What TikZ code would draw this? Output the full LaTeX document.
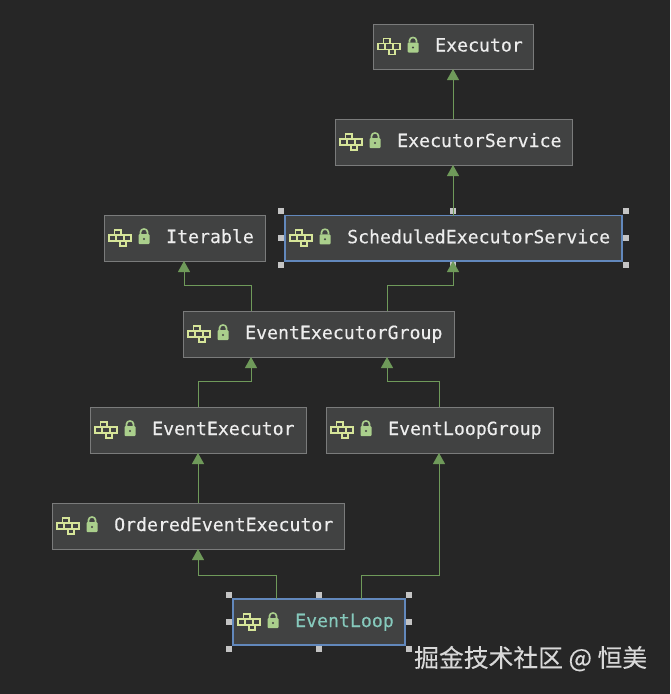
\documentclass[tikz,border=0pt]{standalone}
\usepackage{fontspec}
\newfontfamily\monolabel[FakeBold=0.25]{DejaVu Sans Mono}
\newfontfamily\cjkwm[FakeBold=0.15]{Noto Sans CJK SC}
\usetikzlibrary{arrows.meta}
\definecolor{bgc}{HTML}{262626}
\definecolor{boxc}{HTML}{414242}
\definecolor{edgec}{HTML}{7A7B7B}
\definecolor{selc}{HTML}{6288BC}
\definecolor{linec}{HTML}{6F9A5A}
\definecolor{iconc}{HTML}{D6E599}
\definecolor{lockc}{HTML}{AACF8C}
\definecolor{txtc}{HTML}{EDEDED}
\definecolor{tealc}{HTML}{86C9BC}
\definecolor{handc}{HTML}{C4C4C4}
\definecolor{wmc}{HTML}{D8D8D8}
\tikzset{
  x=1pt,y=-1pt,
  umlbox/.style={draw=edgec,fill=boxc,line width=0.8pt,inner sep=0pt,outer sep=0pt,anchor=north west},
  selbox/.style={umlbox,draw=selc,line width=1.25pt},
  umltext/.style={text=txtc,font=\monolabel\fontsize{18.2}{20}\selectfont,anchor=base west,inner sep=0pt},
  looptext/.style={umltext,text=tealc},
  rel/.style={draw=linec,line width=0.9pt,-{Triangle[length=11pt,width=12pt,color=linec]}},
  hand/.style={fill=handc,draw=none,minimum size=5.5pt,inner sep=0pt},
  wmark/.style={text=wmc,font=\cjkwm\fontsize{24.8}{28}\selectfont,anchor=base west,inner sep=0pt},
}
% \umlnode{name}{x1}{y1}{x2}{y2}{box style}{text style}{label}
\newcommand{\umlnode}[8]{%
  \pgfmathsetmacro{\bw}{#4-#2}\pgfmathsetmacro{\bh}{#5-#3}%
  \pgfmathsetmacro{\bcy}{(#3+#5)/2}%
  \node[#6,minimum width=\bw pt,minimum height=\bh pt] (#1) at (#2,#3) {};
  \begin{scope}[shift={(#2+5,\bcy)}]
    \draw[iconc,line width=1.8pt] (5.5,-8) rectangle (12,-3) (0,-3) rectangle (22,3) (7,-3) -- (7,3) (15,-3) -- (15,3) (11,3) rectangle (17,8);
    \fill[lockc,rounded corners=1pt] (29.5,-4) rectangle (40.5,6);
    \draw[lockc,line width=1.6pt] (31.5,-4) -- (31.5,-6) .. controls (31.5,-10) and (38.5,-10) .. (38.5,-6) -- (38.5,-4);
    \fill[boxc] (35,1) circle[radius=1.2];
  \end{scope}
  \node[#7] (#1-label) at (#2+62,\bcy+5) {#8};
}
\begin{document}
\begin{tikzpicture}
\useasboundingbox[fill=bgc] (0,0) rectangle (670,694);
% selection handles
\foreach \n/\px/\py in {s1/281/211,s2/453/211,s3/626/211,s4/281/238,s5/626/238,s6/281/265,s7/453/265,s8/626/265,
  l1/229/595,l2/319/595,l3/409/595,l4/229/622,l5/409/622,l6/229/649,l7/319/649,l8/409/649}
  \node[hand] (\n) at (\px,\py) {};
\umlnode{executor}{373}{24}{533}{69}{umlbox}{umltext}{Executor}
\umlnode{service}{335}{119}{572}{165}{umlbox}{umltext}{ExecutorService}
\umlnode{iterable}{104}{215}{265}{261}{umlbox}{umltext}{Iterable}
\umlnode{scheduled}{285}{215.5}{622}{261}{selbox}{umltext}{ScheduledExecutorService}
\umlnode{group}{183}{311}{454}{357}{umlbox}{umltext}{EventExecutorGroup}
\umlnode{eexec}{90}{407}{306}{453}{umlbox}{umltext}{EventExecutor}
\umlnode{lgroup}{326}{407}{553}{453}{umlbox}{umltext}{EventLoopGroup}
\umlnode{ordered}{52}{503}{344}{549}{umlbox}{umltext}{OrderedEventExecutor}
\umlnode{loop}{233}{599}{405}{645}{selbox}{looptext}{EventLoop}
% connectors
\coordinate (a1) at (453,0);
\draw[rel] (service.north -| a1) -- (executor.south -| a1);
\draw[rel] (scheduled.north -| a1) -- (service.south -| a1);
\coordinate (b1) at (251,285); \coordinate (b2) at (184,285);
\draw[rel] (group.north -| b1) -- (b1) -- (b2) -- (iterable.south -| b2);
\coordinate (c1) at (387,285); \coordinate (c2) at (453,285);
\draw[rel] (group.north -| c1) -- (c1) -- (c2) -- (scheduled.south -| c2);
\coordinate (d1) at (198,381); \coordinate (d2) at (251,381);
\draw[rel] (eexec.north -| d1) -- (d1) -- (d2) -- (group.south -| d2);
\coordinate (e1) at (439,381); \coordinate (e2) at (387,381);
\draw[rel] (lgroup.north -| e1) -- (e1) -- (e2) -- (group.south -| e2);
\coordinate (f1) at (198,480);
\draw[rel] (ordered.north -| f1) -- (eexec.south -| f1);
\coordinate (g1) at (276,575); \coordinate (g2) at (198,575);
\draw[rel] (loop.north -| g1) -- (g1) -- (g2) -- (ordered.south -| g2);
\coordinate (h1) at (361,575); \coordinate (h2) at (439,575);
\draw[rel] (loop.north -| h1) -- (h1) -- (h2) -- (lgroup.south -| h2);
% watermark
\node[wmark] (wm) at (414,667) {掘金技术社区 @ 恒美};
\end{tikzpicture}
\end{document}
